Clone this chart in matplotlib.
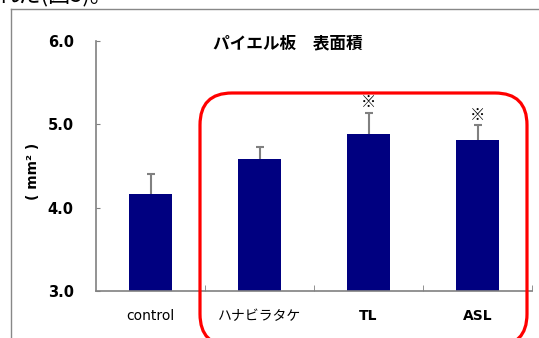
import matplotlib.pyplot as plt
from matplotlib.patches import FancyBboxPatch
from matplotlib.lines import Line2D
from matplotlib.transforms import IdentityTransform

plt.rcParams['font.family'] = ['DejaVu Sans', 'Noto Sans CJK JP']

categories = ['control', 'ハナビラタケ', 'TL', 'ASL']
label_weights = ['normal', 'normal', 'bold', 'bold']
means = [4.16, 4.585, 4.89, 4.81]
errs = [0.24, 0.145, 0.25, 0.18]
marks = ['', '', '※', '※']
yticks = [3.0, 4.0, 5.0, 6.0]

fig = plt.figure(figsize=(5.39, 3.38), dpi=100)
ax = fig.add_axes([96/539, 47/338, 436/539, 250/338])

x = list(range(len(categories)))
ax.bar(x, [m - 3.0 for m in means], bottom=3.0, width=0.4, color='#000080', zorder=2)
eb = ax.errorbar(x, means, yerr=[[0]*len(errs), errs], fmt='none', ecolor='#808080',
                 elinewidth=1.5, capsize=3, capthick=1.5, zorder=1)
# only the upper caps
eb[1][0].set_visible(False)

for xi, m, e, mk in zip(x, means, errs, marks):
    if mk:
        ax.annotate(mk, (xi, m + e), xytext=(0, 1), textcoords='offset points',
                    ha='center', va='bottom', fontsize=11, family=['Noto Sans CJK JP'])

ax.set_xlim(-0.5, 3.5)
ax.set_ylim(3.0, 6.0)
ax.set_yticks(yticks)
ax.set_yticklabels(['%.1f' % t for t in yticks], fontsize=10.5, fontweight='bold')
ax.set_xticks(x)
ax.set_xticklabels(categories, fontsize=10)
for lbl, w in zip(ax.get_xticklabels(), label_weights):
    lbl.set_fontweight(w)
ax.set_xticks([0.5, 1.5, 2.5, 3.5], minor=True)
ax.tick_params(axis='x', which='major', length=0, pad=13)
ax.tick_params(axis='x', which='minor', direction='in', length=4, color='#808080')
ax.tick_params(axis='y', direction='in', length=3, color='#808080', pad=16)

for s in ['top', 'right']:
    ax.spines[s].set_visible(False)
for s in ['left', 'bottom']:
    ax.spines[s].set_color('#808080')
    ax.spines[s].set_linewidth(1.2)

fig.text(288/539, 1 - 43/338, 'パイエル板　表面積', ha='center', va='center',
         fontsize=12, fontweight='bold', family=['Noto Sans CJK JP'])
fig.text(33/539, 1 - 171/338, '( mm² )', rotation=90, ha='center', va='center',
         fontsize=10, fontweight='bold')

# surrounding frame and cut-off text above
fig.add_artist(Line2D([11/539, 11/539], [0, 1 - 9/338], transform=fig.transFigure,
                      color='#888888', lw=1))
fig.add_artist(Line2D([11/539, 1], [1 - 9/338, 1 - 9/338], transform=fig.transFigure,
                      color='#888888', lw=1))
fig.text(-0.005, 1 - 6/338, 'れた(図5)。', ha='left', va='bottom', fontsize=16,
         family=['Noto Sans CJK JP'])

# red highlight box
box = FancyBboxPatch((200, -8), 327, 253, boxstyle='round,pad=0,rounding_size=32',
                     transform=IdentityTransform(), fill=False, edgecolor='#ff0000',
                     linewidth=2.3)
fig.add_artist(box)

fig.savefig('out.png', dpi=100)
